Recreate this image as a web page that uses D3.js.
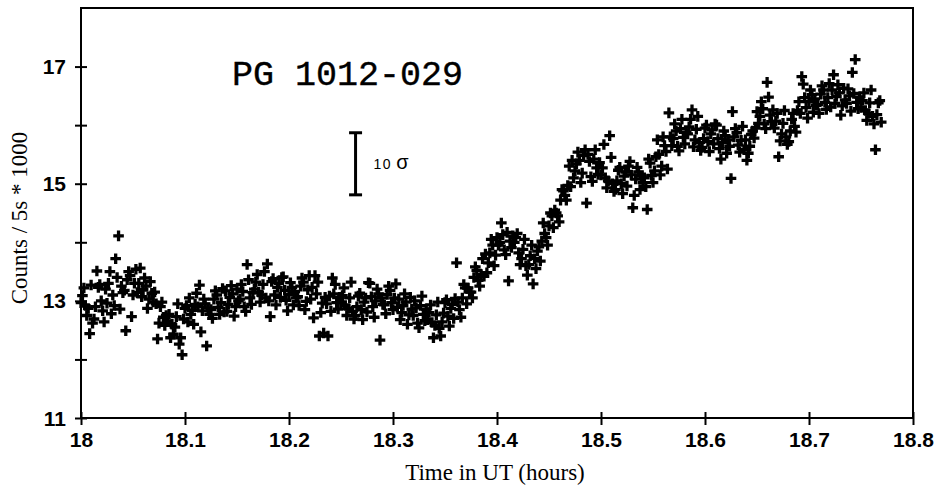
<!DOCTYPE html>
<html><head><meta charset="utf-8">
<script src="https://cdn.jsdelivr.net/npm/d3@7"></script>
<style>body{margin:0;background:#fff}svg{display:block}</style>
</head><body>
<svg id="chart" width="941" height="487"></svg>
<script>
const xTicks = [18, 18.1, 18.2, 18.3, 18.4, 18.5, 18.6, 18.7, 18.8];
const xTickLabels = ["18", "18.1", "18.2", "18.3", "18.4", "18.5", "18.6", "18.7", "18.8"];
const yTicks = [11, 12, 13, 14, 15, 16, 17];
const yTickLabels = ["11", "", "13", "", "15", "", "17"];
const titleText = "PG 1012-029";
const xTitle = "Time in UT (hours)";
const yTitle = "Counts / 5s * 1000";
const errBarX = 18.264;
const errBarY = [14.81, 15.87];
const errLabel = ["10", "σ"];
const startTime = 18.0;
const stepHours = 5 / 3600;
// counts (thousands per 5 s), one every 5 s
const counts = [
12.97,13.09,13.22,12.92,12.75,12.87,12.44,13.27,12.62,12.69,
12.90,13.51,13.23,13.28,13.00,12.83,12.64,13.20,12.96,13.30,
13.50,12.78,13.10,12.92,13.72,13.40,14.11,12.86,13.25,13.14,
13.18,12.49,13.36,13.50,13.43,12.73,13.10,13.30,13.54,13.14,
13.30,13.56,13.07,13.19,13.39,13.25,12.87,13.03,13.33,13.13,
12.98,13.15,12.95,12.35,12.62,12.90,12.98,12.72,12.58,12.75,
12.65,12.77,12.37,12.60,12.43,12.55,12.73,12.95,12.26,12.37,
12.08,12.69,12.87,12.92,12.64,13.05,12.77,12.84,12.60,12.94,
13.13,12.90,13.27,12.47,12.83,13.03,12.95,12.23,12.88,12.77,
12.85,12.70,13.03,13.17,13.10,12.89,12.77,12.97,13.21,12.81,
13.17,12.82,12.94,13.06,13.26,13.12,12.74,12.90,13.20,13.00,
13.03,13.28,13.16,12.90,12.82,13.62,13.36,13.05,12.94,13.14,
13.20,13.32,13.45,13.15,12.98,13.10,13.28,13.50,13.05,13.63,
13.00,12.73,13.33,13.38,13.10,12.93,13.23,13.30,13.06,13.40,
13.41,13.18,13.01,12.83,13.11,13.31,13.23,12.93,13.16,13.05,
13.07,12.92,13.25,13.39,13.32,12.85,12.99,13.19,13.43,13.03,
13.23,12.71,13.43,13.12,13.32,12.40,12.80,12.96,12.45,13.06,
12.95,12.40,13.08,12.82,13.39,13.12,13.28,12.97,12.86,13.06,
12.97,13.09,13.22,12.92,12.75,12.87,13.05,13.32,12.82,12.69,
12.75,12.90,13.08,13.13,12.85,12.68,12.98,13.05,12.81,13.31,
13.30,13.07,12.90,12.72,13.00,13.20,13.12,12.33,13.05,12.94,
12.93,12.78,13.11,13.25,13.18,12.97,12.85,13.05,13.29,12.89,
13.03,12.68,12.80,12.92,13.12,12.98,12.60,12.76,13.06,12.86,
12.75,13.00,12.88,12.62,12.54,12.92,13.08,12.77,12.66,12.86,
12.68,12.80,12.93,12.63,12.37,12.58,12.76,12.98,12.53,12.40,
12.64,12.79,12.97,13.02,12.74,12.57,12.87,12.94,12.70,13.04,
13.65,12.98,12.85,12.72,13.05,13.28,13.22,12.95,13.22,13.15,
13.15,13.05,13.40,13.58,13.52,13.35,13.25,13.45,13.72,13.42,
13.80,13.48,13.65,13.82,14.05,13.95,13.60,13.78,14.08,13.95,
14.00,14.33,14.13,13.87,13.79,14.17,13.34,14.02,13.91,14.11,
14.00,14.08,14.15,13.82,13.62,13.72,13.88,14.05,13.60,13.44,
13.62,13.77,13.95,13.29,13.72,13.55,13.85,13.92,13.68,14.02,
14.33,14.15,14.08,13.95,14.28,14.50,14.45,14.25,14.55,14.50,
14.45,14.35,14.72,14.90,14.88,14.80,14.72,14.97,15.30,14.95,
15.40,15.10,15.22,15.34,15.54,15.40,15.02,15.18,15.48,15.58,
14.67,15.50,15.38,15.12,15.04,15.42,15.58,15.27,15.16,15.36,
15.15,15.27,15.67,15.10,14.93,15.05,15.82,15.45,15.00,14.87,
14.90,15.05,15.23,15.28,15.00,14.83,15.13,15.20,14.96,15.30,
15.38,15.15,14.59,14.80,15.08,15.28,15.20,14.90,15.13,15.02,
15.10,14.95,14.56,15.42,15.35,15.14,15.02,15.22,15.46,15.75,
15.50,15.15,15.30,15.80,15.65,15.55,15.25,16.21,15.80,15.65,
15.77,16.02,15.90,15.64,15.56,15.94,16.10,15.79,15.68,15.88,
15.85,15.97,16.10,16.26,15.63,15.75,15.93,16.15,15.70,15.57,
15.62,15.77,15.95,16.00,15.72,15.55,15.85,15.92,15.68,16.02,
16.00,15.77,15.60,15.42,15.70,15.90,15.82,15.52,15.75,15.64,
15.09,16.23,15.80,15.94,15.87,15.66,15.54,15.74,15.98,15.58,
15.75,15.40,15.52,15.64,15.84,15.90,15.78,15.95,16.23,16.03,
16.15,16.40,16.28,16.02,15.94,16.73,16.48,16.17,16.06,16.26,
15.95,16.07,16.20,15.46,15.73,15.85,16.03,16.25,15.80,15.67,
15.72,15.90,16.10,16.20,15.98,15.88,16.25,16.40,16.20,16.83,
16.70,16.47,16.30,16.12,16.40,16.60,16.52,16.22,16.45,16.34,
16.35,16.20,16.53,16.67,16.60,16.39,16.27,16.47,16.71,16.31,
16.60,16.86,16.37,16.49,16.69,16.55,16.17,16.33,16.63,16.43,
16.37,16.62,16.50,16.24,16.90,16.54,17.12,16.39,16.28,16.48,
16.30,16.42,16.55,16.25,16.08,16.20,16.38,16.60,16.15,16.02,
15.58,16.18,16.38,16.42,16.05
];

const svg = d3.select("#chart");
const L = 81, R = 913, T = 8, B = 418;
const x = d3.scaleLinear().domain([18, 18.8]).range([L, R]);
const y = d3.scaleLinear().domain([11, 18]).range([B, T]);

const data = counts.map((v, i) => ({t: startTime + i * stepHours, v}));

// points
const plus = "M-5.3,0H5.3M0,-5.3V5.3";
svg.append("g").selectAll("path").data(data).join("path")
  .attr("transform", d => `translate(${x(d.t)},${y(d.v)})`)
  .attr("d", plus)
  .attr("stroke", "#000").attr("stroke-width", 3.3).attr("fill", "none");

// frame
svg.append("rect").attr("x", L).attr("y", T).attr("width", R - L).attr("height", B - T)
  .attr("fill", "none").attr("stroke", "#000").attr("stroke-width", 2);

// x axis
const xa = svg.append("g").attr("transform", `translate(0,${B})`)
  .call(d3.axisBottom(x).tickValues(xTicks).tickSize(7).tickSizeOuter(0)
    .tickFormat((d, i) => xTickLabels[i]));
xa.select(".domain").remove();
xa.selectAll(".tick line").attr("y1", -6).attr("y2", 7).attr("stroke", "#000").attr("stroke-width", 2);
xa.selectAll(".tick text").attr("y", 14).attr("dy", "0.71em")
  .attr("font-family", "Liberation Sans, Arial, sans-serif").attr("font-weight", "bold")
  .attr("font-size", 21).attr("fill", "#000");

// y axis
const ya = svg.append("g").attr("transform", `translate(${L},0)`)
  .call(d3.axisLeft(y).tickValues(yTicks).tickSize(6).tickSizeOuter(0)
    .tickFormat((d, i) => yTickLabels[i]));
ya.select(".domain").remove();
ya.selectAll(".tick line").attr("x1", -6).attr("x2", 6).attr("stroke", "#000").attr("stroke-width", 2);
ya.selectAll(".tick text").attr("x", -15).attr("dy", "0.34em")
  .attr("font-family", "Liberation Sans, Arial, sans-serif").attr("font-weight", "bold")
  .attr("font-size", 21).attr("fill", "#000");

// axis titles
svg.append("text").attr("x", (L + R) / 2 - 2).attr("y", 480).attr("text-anchor", "middle")
  .attr("font-family", "Liberation Serif, Times New Roman, serif").attr("font-size", 23)
  .attr("fill", "#000").text(xTitle);
svg.append("text").attr("transform", `translate(27,218) rotate(-90)`).attr("text-anchor", "middle")
  .attr("font-family", "Liberation Serif, Times New Roman, serif").attr("font-size", 23)
  .attr("fill", "#000").text(yTitle);

// title
svg.append("text").attr("x", 232).attr("y", 85)
  .attr("font-family", "Liberation Mono, Courier New, monospace").attr("font-size", 35)
  .attr("fill", "#000").attr("stroke", "#000").attr("stroke-width", 0.4).text(titleText);

// 10 sigma error bar
const ex = x(errBarX);
const eb = svg.append("g").attr("stroke", "#000").attr("stroke-width", 3);
eb.append("line").attr("x1", ex).attr("x2", ex).attr("y1", y(errBarY[0])).attr("y2", y(errBarY[1]));
eb.append("line").attr("x1", ex - 6.5).attr("x2", ex + 6.5).attr("y1", y(errBarY[0])).attr("y2", y(errBarY[0]));
eb.append("line").attr("x1", ex - 6.5).attr("x2", ex + 6.5).attr("y1", y(errBarY[1])).attr("y2", y(errBarY[1]));
const et = svg.append("text").attr("x", ex + 18).attr("y", (y(errBarY[0]) + y(errBarY[1])) / 2 + 5)
  .attr("font-family", "Liberation Sans, Arial, sans-serif").attr("fill", "#000");
et.append("tspan").attr("font-size", 14).attr("letter-spacing", 1.5).text(errLabel[0]);
et.append("tspan").attr("font-size", 20).attr("dx", 4).text(errLabel[1]);
</script>
</body></html>
